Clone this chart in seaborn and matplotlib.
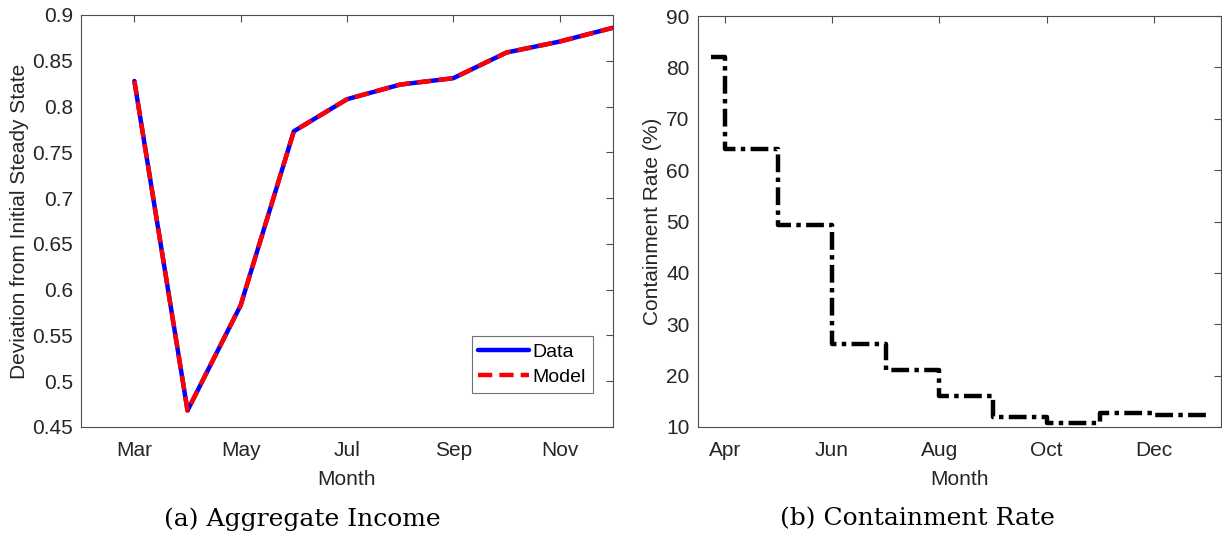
import numpy as np
import pandas as pd
import matplotlib
matplotlib.use("Agg")
import matplotlib.pyplot as plt
import seaborn as sns

# ---- data ----
income_month = [3, 4, 5, 6, 7, 8, 9, 10, 11, 12]
income_data = [0.828, 0.468, 0.583, 0.773, 0.808, 0.824, 0.831, 0.859, 0.871, 0.886]
income_model = [0.828, 0.468, 0.583, 0.773, 0.808, 0.824, 0.831, 0.859, 0.871, 0.886]

contain_month = [3.75, 4, 5, 6, 7, 8, 9, 10, 11, 12, 13]
contain_rate = [82.0, 64.2, 49.4, 26.1, 21.1, 16.0, 11.9, 10.8, 12.7, 12.3, 12.3]

left_ticks = [3, 5, 7, 9, 11]
left_ticklabels = ["Mar", "May", "Jul", "Sep", "Nov"]
right_ticks = [4, 6, 8, 10, 12]
right_ticklabels = ["Apr", "Jun", "Aug", "Oct", "Dec"]
left_yticks = [0.45, 0.5, 0.55, 0.6, 0.65, 0.7, 0.75, 0.8, 0.85, 0.9]
left_yticklabels = ["0.45", "0.5", "0.55", "0.6", "0.65", "0.7", "0.75", "0.8", "0.85", "0.9"]
right_yticks = [10, 20, 30, 40, 50, 60, 70, 80, 90]

sns.set_theme(style="white")
plt.rcParams['font.family'] = ['Liberation Sans', 'DejaVu Sans']

W, H = 1222, 538
fig = plt.figure(figsize=(W / 100, H / 100), dpi=100)

axc = "#262626"
FS = 15


def style_axes(ax):
    for s in ax.spines.values():
        s.set_color("#4d4d4d")
        s.set_linewidth(0.8)
        s.set_visible(True)
    ax.tick_params(direction="in", length=5, width=0.8, color="#4d4d4d",
                   top=True, right=True, labelsize=FS, labelcolor=axc)
    ax.tick_params(axis="x", pad=10)
    ax.tick_params(axis="y", pad=6)


# left panel
ax1 = fig.add_axes([81.2 / W, 1 - 427 / H, (612.8 - 81.2) / W, (427 - 15) / H])
df1 = pd.DataFrame({"month": income_month, "Data": income_data, "Model": income_model})
sns.lineplot(data=df1, x="month", y="Data", ax=ax1, color="#0000ff", lw=3.2, label="Data")
sns.lineplot(data=df1, x="month", y="Model", ax=ax1, color="#ff0000", lw=3.2, label="Model",
             dashes=False)
ax1.lines[1].set_dashes((3.2, 1.6))
ax1.set_xlim(2, 12)
ax1.set_ylim(0.45, 0.9)
ax1.set_xticks(left_ticks)
ax1.set_xticklabels(left_ticklabels)
ax1.set_yticks(left_yticks)
ax1.set_yticklabels(left_yticklabels)
ax1.set_xlabel("Month", fontsize=FS, color=axc, labelpad=7)
ax1.set_ylabel("Deviation from Initial Steady State", fontsize=FS, color=axc, labelpad=2.5)
style_axes(ax1)
leg = ax1.legend(loc="lower right", bbox_to_anchor=((593 - 81.2) / (612.8 - 81.2), 34 / 412),
                 fontsize=14, frameon=True,
                 fancybox=False, edgecolor="#4d4d4d", handlelength=2.6, handletextpad=0.2,
                 borderpad=0.35, labelspacing=0.4, borderaxespad=0.0)
leg.get_frame().set_linewidth(0.8)
for t in leg.get_texts():
    t.set_color("black")

# right panel
ax2 = fig.add_axes([698 / W, 1 - 427 / H, (1221 - 698) / W, (427 - 16) / H])
df2 = pd.DataFrame({"month": contain_month, "rate": contain_rate})
sns.lineplot(data=df2, x="month", y="rate", ax=ax2, color="black", lw=3.2,
             drawstyle="steps-post")
ax2.lines[0].set_dashes((4.0, 1.2, 1.0, 1.2))
ax2.set_xlim(3.5, 13.25)
ax2.set_ylim(10, 90)
ax2.set_xticks(right_ticks)
ax2.set_xticklabels(right_ticklabels)
ax2.set_yticks(right_yticks)
ax2.set_xlabel("Month", fontsize=FS, color=axc, labelpad=7)
ax2.set_ylabel("Containment Rate (%)", fontsize=FS, color=axc, labelpad=3)
style_axes(ax2)

# captions
fig.text(302 / W, 1 - 519 / H, "(a) Aggregate Income", ha="center", va="center",
         fontsize=18, family="DejaVu Serif", color="black")
fig.text(917 / W, 1 - 519 / H, "(b) Containment Rate", ha="center", va="center",
         fontsize=18, family="DejaVu Serif", color="black")

fig.savefig("out.png", dpi=100)
